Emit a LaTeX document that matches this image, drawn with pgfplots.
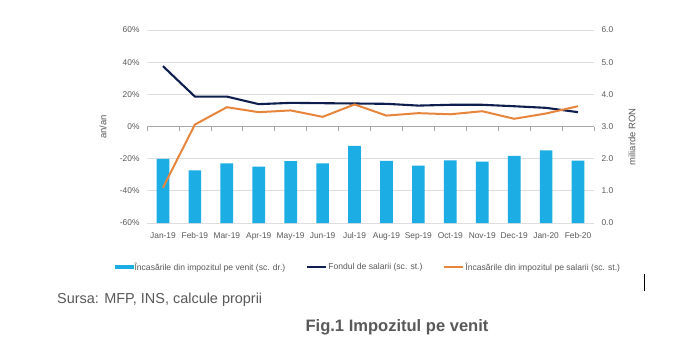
\documentclass[border=0pt]{standalone}
\usepackage{pgfplots}
\pgfplotsset{compat=1.18}
\usepackage{fontspec}
\setmainfont{Liberation Sans}
\definecolor{barblue}{HTML}{1CADE4}
\definecolor{navy}{HTML}{0E1E4E}
\definecolor{orng}{HTML}{E8853D}
\definecolor{txtgray}{HTML}{595959}
\definecolor{gridgray}{HTML}{DEDEDE}
\definecolor{zerogray}{HTML}{A6A6A6}
\begin{document}
\begin{tikzpicture}
\path[use as bounding box, fill=white] (0,0) rectangle (695bp,-356bp);
% bars, right axis
\begin{axis}[at={(147bp,-223bp)}, anchor=south west, scale only axis,
  width=447bp, height=193bp,
  xmin=-0.5, xmax=13.5, ymin=0, ymax=6,
  axis y line*=right, axis x line=none,
  axis line style={draw=none}, tick style={draw=none},
  ytick={0,1,...,6},
  yticklabel={\pgfmathprintnumber[fixed,fixed zerofill,precision=1]{\tick}},
  /pgf/number format/assume math mode=true,
  ymajorgrids, grid style={color=gridgray, line width=1bp},
  ticklabel style={font=\fontsize{8.4}{9}\selectfont, text=txtgray},
  yticklabel style={xshift=4bp},
  xtick=\empty,
  legend style={at={(0.494,-0.228)}, anchor=center, draw=none, fill=none,
    legend columns=3, font=\fontsize{8.6}{9}\selectfont, text=txtgray,
    inner sep=0pt,
    /tikz/every even column/.append style={column sep=20bp},
    nodes={inner xsep=1bp}},
]
\addplot[ybar, bar width=12.7bp, fill=barblue, draw=none,
  legend image code/.code={\fill[barblue] (0bp,-1.6bp) rectangle (19bp,1.6bp);}]
  coordinates {(0,1.99) (1,1.64) (2,1.85) (3,1.75) (4,1.92) (5,1.85) (6,2.40)
  (7,1.93) (8,1.78) (9,1.95) (10,1.91) (11,2.09) (12,2.26) (13,1.94)};
\addlegendentry{Încasările din impozitul pe venit (sc. dr.)}
\addlegendimage{legend image code/.code={\draw[navy, line width=2bp] (0bp,0bp) -- (19bp,0bp);}}
\addlegendentry{Fondul de salarii (sc. st.)}
\addlegendimage{legend image code/.code={\draw[orng, line width=2bp] (0bp,0bp) -- (19bp,0bp);}}
\addlegendentry{Încasările din impozitul pe salarii (sc. st.)}
\end{axis}
% lines, left axis
\begin{axis}[at={(147bp,-223bp)}, anchor=south west, scale only axis,
  width=447bp, height=193bp,
  xmin=-0.5, xmax=13.5, ymin=-60, ymax=60,
  axis line style={draw=none}, tick style={draw=none},
  axis y line*=left, axis x line*=bottom,
  ytick={-60,-40,...,60},
  yticklabel={\pgfmathprintnumber{\tick}\%},
  /pgf/number format/assume math mode=true,
  xtick={0,...,13},
  xticklabels={Jan-19,Feb-19,Mar-19,Apr-19,May-19,Jun-19,Jul-19,Aug-19,Sep-19,Oct-19,Nov-19,Dec-19,Jan-20,Feb-20},
  ticklabel style={font=\fontsize{8.4}{9}\selectfont, text=txtgray},
  xticklabel style={yshift=-6bp},
  yticklabel style={xshift=-4bp},
  clip=false,
]
\draw[zerogray, line width=1bp] (axis cs:-0.5,0) -- (axis cs:13.5,0);
\pgfplotsinvokeforeach{-0.5,0.5,1.5,2.5,3.5,4.5,5.5,6.5,7.5,8.5,9.5,10.5,11.5,12.5,13.5}{
  \draw[zerogray, line width=0.7bp] (axis cs:#1,0) -- (axis cs:#1,-2.5);
}
\addplot[navy, line width=2.1bp] coordinates {(0,37.5) (1,18.6) (2,18.6) (3,13.9) (4,14.7) (5,14.5) (6,14.3)
  (7,14.1) (8,13.0) (9,13.5) (10,13.5) (11,12.6) (12,11.6) (13,8.9)};
\addplot[orng, line width=2bp] coordinates {(0,-38) (1,1.2) (2,12) (3,8.9) (4,10) (5,6) (6,13.7)
  (7,6.8) (8,8.3) (9,7.6) (10,9.5) (11,4.8) (12,8.1) (13,12.6)};
\end{axis}
\node[rotate=90, text=txtgray, font=\fontsize{9.5}{10}\selectfont] at (103bp,-127bp) {an/an};
\node[rotate=90, text=txtgray, font=\fontsize{9.5}{10}\selectfont] at (632bp,-137bp) {miliarde RON};
\node[anchor=west, inner sep=0pt, text=txtgray, font=\fontsize{14.5}{16}\selectfont] at (57bp,-300bp) {Sursa: MFP, INS, calcule proprii};
\node[text=txtgray, font=\bfseries\fontsize{16.6}{18}\selectfont] at (397bp,-327bp) {Fig.1 Impozitul pe venit};
\draw[black, line width=0.9bp] (644bp,-274bp) -- (644bp,-291bp);
\end{tikzpicture}
\end{document}
